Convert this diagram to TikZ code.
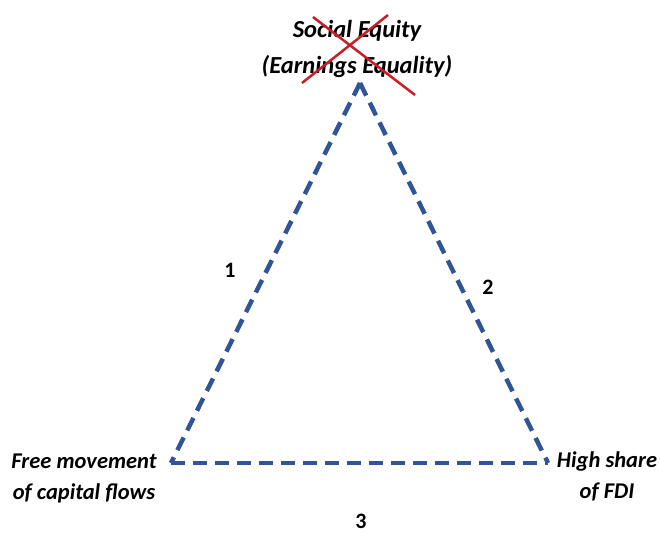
\documentclass[tikz,border=0pt]{standalone}
\usepackage{fontspec}
\setmainfont{Carlito}
\usetikzlibrary{calc}

\definecolor{edgeblue}{RGB}{47,85,151}
\definecolor{crossred}{RGB}{200,30,40}

\begin{document}
\begin{tikzpicture}[x=1pt,y=-1pt,
    side/.style={edgeblue, line width=4.5pt, dash pattern=on 14pt off 8pt},
    lbl/.style={font=\fontsize{22.5}{31}\selectfont\bfseries\itshape, align=center, inner sep=0pt},
    toplbl/.style={lbl, font=\fontsize{24.5}{36}\selectfont\bfseries\itshape},
    num/.style={font=\fontsize{22}{24}\selectfont\bfseries, inner sep=0pt}]
  \useasboundingbox (0,0) rectangle (660,535);

  % Ecken des Dreiecks
  \coordinate (T) at (360,83);
  \coordinate (L) at (171,463);
  \coordinate (R) at (548,463);

  \draw[side] (T) -- (L);
  \draw[side] (T) -- (R);
  \draw[side] (L) -- (R);

  % Beschriftungen der Ecken
  \node[toplbl] (top) at (357,49) {Social Equity\\(Earnings Equality)};
  \node[lbl] (left) at (84,478) {Free movement\\of capital flows};
  \node[lbl] (right) at (607,476) {High share\\of FDI};

  % durchgestrichen
  \coordinate (X1) at (313,17);
  \coordinate (X2) at (415,95);
  \coordinate (X3) at (388,15);
  \coordinate (X4) at (302,83);
  \draw[crossred, line width=2.5pt] (X1) -- (X2);
  \draw[crossred, line width=2.5pt] (X3) -- (X4);

  % Nummern der Seiten
  \node[num] (n1) at (230,270) {1};
  \node[num] (n2) at (488,287) {2};
  \node[num] (n3) at (361,521) {3};
\end{tikzpicture}
\end{document}
